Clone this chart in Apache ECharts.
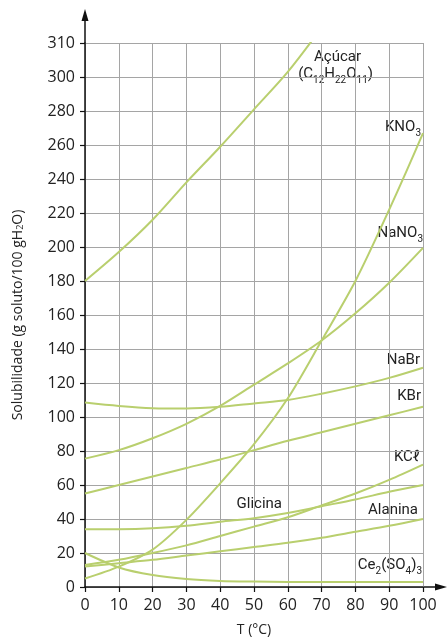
<!DOCTYPE html>
<html>
<head>
<meta charset="utf-8">
<script src="https://cdn.jsdelivr.net/npm/echarts@6/dist/echarts.min.js"></script>
<style>
html,body{margin:0;padding:0;background:#fff;}
#chart{width:448px;height:644px;}
</style>
</head>
<body>
<div id="chart"></div>
<script>
// ---- data ----
const temps = [0, 10, 20, 30, 40, 50, 60, 70, 80, 90, 100];
const acucarTemps = [0, 10, 20, 30, 40, 50, 60, 70];
const acucar = [180, 197, 216, 238, 259, 281, 303, 329];
const kno3 = [5, 12, 22, 39.5, 61, 84, 111, 145, 180, 222, 267];
const nano3 = [75.5, 80.5, 87.5, 96, 106.5, 119, 131.5, 145, 161, 179, 199.5];
const nabr = [108.5, 106.5, 105.2, 105, 106, 108, 110, 113.7, 118, 123, 129];
const kbr = [55, 60, 65, 70, 75, 80.5, 86, 91, 96, 101, 106];
const kcl = [34, 34, 34.5, 36, 38.4, 40.5, 43.5, 47.5, 51.5, 56, 60];
const glicina = [13, 16, 20, 24.5, 30, 35.5, 41, 48, 55, 63, 72];
const alanina = [12, 14, 16, 18.5, 21, 23.5, 26, 29, 32.5, 36, 40];
const ce2so43 = [20, 11.5, 7, 4.7, 3.6, 3.2, 3, 3, 3, 3, 3];
const xTickLabels = ['0','10','20','30','40','50','60','70','80','90','100'];
const yTickLabels = ['0','20','40','60','80','100','120','140','160','180','200','220','240','260','280','300','310'];

// ---- layout ----
const G = {left: 85, right: 25, top: 43, bottom: 57};
const W = 448, H = 644;
const axisX = G.left, axisY = H - G.bottom, gridR = W - G.right;
const lineColor = '#b9cf6e';
const labelFont = '"Roboto", sans-serif';
const tickFont = '"Open Sans", sans-serif';

function pairs(xs, ys) { return xs.map((x, i) => [x, ys[i]]); }
function mk(name, xs, ys) {
  return {
    name, type: 'line', data: pairs(xs, ys), smooth: 0.3,
    showSymbol: false, clip: true,
    lineStyle: {color: lineColor, width: 2}, silent: true
  };
}

const subRich = {
  m: {fontSize: 15, fontFamily: labelFont, color: '#222', lineHeight: 16, verticalAlign: 'bottom'},
  s: {fontSize: 10, fontFamily: labelFont, color: '#222', lineHeight: 10, verticalAlign: 'bottom', padding: [0, 0, -3, 0]}
};
function txt(x, y, text, align) {
  return {
    type: 'text', x, y, silent: true,
    style: {text, rich: subRich, align: align || 'right', verticalAlign: 'top',
            font: '15px ' + labelFont, fill: '#222'}
  };
}

const chart = echarts.init(document.getElementById('chart'), null, {renderer: 'canvas'});
chart.setOption({
  animation: false,
  backgroundColor: '#fff',
  grid: {left: G.left, right: G.right, top: G.top, bottom: G.bottom, containLabel: false, outerBoundsMode: 'none'},
  xAxis: {
    type: 'value', min: 0, max: 100, interval: 10,
    name: 'T (°C)', nameLocation: 'middle', nameGap: 36,
    nameTextStyle: {fontFamily: tickFont, fontSize: 14, color: '#222'},
    axisLine: {show: true, lineStyle: {color: '#111', width: 1.5}},
    axisTick: {show: true, length: 5, lineStyle: {color: '#111', width: 1.2}},
    axisLabel: {fontFamily: tickFont, fontSize: 16, color: '#222', margin: 10,
                formatter: v => xTickLabels[Math.round(v / 10)]},
    splitLine: {show: true, lineStyle: {color: '#a5a5a5', width: 1}}
  },
  yAxis: {
    type: 'value', min: 0, max: 320, interval: 20,
    name: 'Solubilidade (g soluto/100 gH{s|2}O)', nameLocation: 'middle', nameGap: 60, nameRotate: 90,
    nameTextStyle: {fontFamily: tickFont, fontSize: 14, color: '#222',
      rich: {s: {fontFamily: tickFont, fontSize: 9, color: '#222', padding: [0, 0, -4, 0]}}},
    axisLine: {show: true, lineStyle: {color: '#111', width: 1.5}},
    axisTick: {show: true, length: 5, lineStyle: {color: '#111', width: 1.2}},
    axisLabel: {fontFamily: tickFont, fontSize: 16, color: '#222', margin: 10,
                formatter: v => yTickLabels[Math.round(v / 20)]},
    splitLine: {show: true, lineStyle: {color: '#a5a5a5', width: 1}}
  },
  series: [
    mk('Açúcar', acucarTemps, acucar),
    mk('KNO3', temps, kno3),
    mk('NaNO3', temps, nano3),
    mk('NaBr', temps, nabr),
    mk('KBr', temps, kbr),
    mk('KCl', temps, kcl),
    mk('Glicina', temps, glicina),
    mk('Alanina', temps, alanina),
    mk('Ce2(SO4)3', temps, ce2so43)
  ],
  graphic: [
    // axis extensions with arrows
    {type: 'line', silent: true, shape: {x1: axisX, y1: G.top, x2: axisX, y2: 18}, style: {stroke: '#111', lineWidth: 1.5}},
    {type: 'polygon', silent: true, shape: {points: [[axisX, 9], [axisX - 3.5, 21], [axisX + 3.5, 21]]}, style: {fill: '#111'}},
    {type: 'line', silent: true, shape: {x1: gridR, y1: axisY, x2: 438, y2: axisY}, style: {stroke: '#111', lineWidth: 1.5}},
    {type: 'polygon', silent: true, shape: {points: [[447, axisY], [435, axisY - 3.5], [435, axisY + 3.5]]}, style: {fill: '#111'}},
    // curve labels
    txt(361, 49, '{m|Açúcar}'),
    txt(373, 66, '{m|(C}{s|12}{m|H}{s|22}{m|O}{s|11}{m|)}'),
    txt(421, 119, '{m|KNO}{s|3}'),
    txt(423, 225, '{m|NaNO}{s|3}'),
    txt(420, 352, '{m|NaBr}'),
    txt(421, 388, '{m|KBr}'),
    txt(420, 449, '{m|KCℓ}'),
    txt(282, 496, '{m|Glicina}'),
    txt(418, 502, '{m|Alanina}'),
    txt(422, 557, '{m|Ce}{s|2}{m|(SO}{s|4}{m|)}{s|3}')
  ]
});
</script>
</body>
</html>
